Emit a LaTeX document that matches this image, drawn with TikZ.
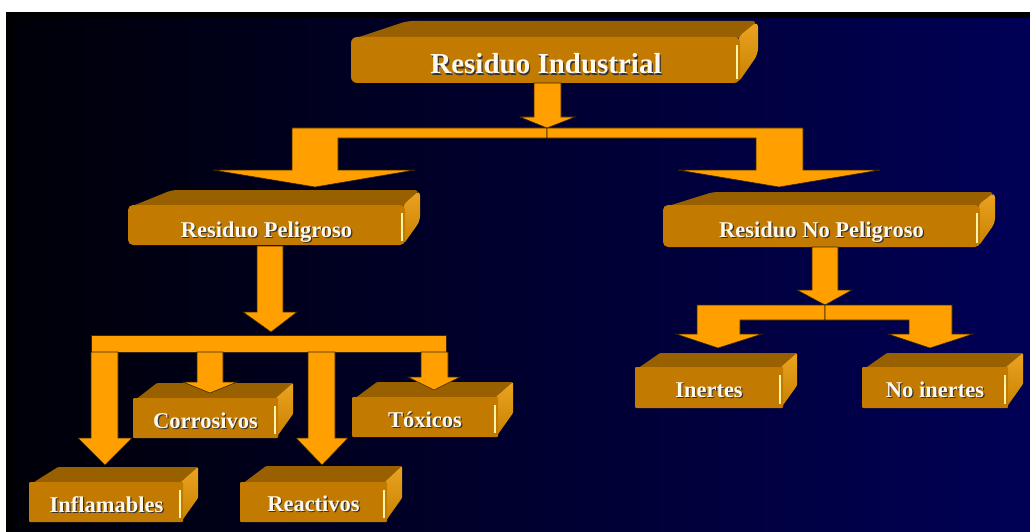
\documentclass[tikz,border=0pt]{standalone}
\usepackage{fontspec}
\setmainfont{Liberation Serif}
\definecolor{frontc}{HTML}{C27A00}
\definecolor{topc}{HTML}{996000}
\definecolor{sidetop}{HTML}{EBA422}
\definecolor{sidebot}{HTML}{C98200}
\definecolor{arrc}{HTML}{FFA000}
\definecolor{arredge}{HTML}{3A2600}
\definecolor{hlc}{HTML}{FFF4A8}
\definecolor{txtc}{HTML}{FFF8EC}
\definecolor{bgl}{HTML}{000008}
\definecolor{bgr}{HTML}{000056}
\newcommand\caja[9]{%
 \pgfmathsetmacro\cw{#4-#2}\pgfmathsetmacro\ch{#5-#3}\pgfmathsetmacro\cyd{#5-1.6*(#8-#4)}%
 \fill[topc, rounded corners=#9] (#2+2,#3+2) -- (#7,#6) -- (#8,#6) -- (#4,#3+2) -- cycle;
 \path[top color=sidetop, bottom color=sidebot, rounded corners=#9] (#4-2,#3) -- (#8,#6) -- (#8,\cyd) -- (#4-2,#5) -- cycle;
 \node[fill=frontc, rounded corners=#9, inner sep=0pt, minimum width=\cw pt, minimum height=\ch pt] (#1) at ({(#2+#4)/2},{(#3+#5)/2}) {};
 \draw[hlc, line width=1.3pt] (#4-3,#3+8) -- (#4-3,#5-4);
}
\newcommand\etq[5]{%
 \node[anchor=base, text=black!80, font=\fontsize{#4}{#4}\selectfont\bfseries] at (#2+1.2,#3+1.2) {#5};
 \node[anchor=base, text=txtc, font=\fontsize{#4}{#4}\selectfont\bfseries] (#1) at (#2,#3) {#5};
}
\begin{document}
\begin{tikzpicture}[x=1pt,y=-1pt, arr/.style={fill=arrc, draw=arredge, line width=0.6pt, line join=miter}]
\useasboundingbox (0,0) rectangle (1030,532);
\fill[white] (0,0) rectangle (1030,532);
\fill[black] (6,12) rectangle (1030,532);
\shade[left color=bgl, right color=bgr] (13,19) rectangle (1030,532);
% boxes
\caja{ri}{351}{37}{740}{83}{21}{407}{758}{6pt}
\caja{rp}{128}{205}{405}{245}{190}{172}{420}{5pt}
\caja{rnp}{663}{205}{980}{247}{192}{713}{995}{5pt}
\caja{ine}{635}{367}{783}{408}{353}{660}{797}{1pt}
\caja{noi}{862}{367}{1008}{408}{353}{887}{1023}{1pt}
\caja{cor}{133}{398}{278}{438}{383}{157}{293}{1pt}
\caja{tox}{352}{397}{498}{437}{382}{377}{513}{1pt}
\caja{inf}{29}{482}{183}{522}{467}{58}{198}{1pt}
\caja{rea}{240}{482}{387}{522}{466}{266}{402}{1pt}
% labels
\etq{tri}{546}{74}{29}{Residuo Industrial}
\etq{trp}{266.5}{237}{22.5}{Residuo Peligroso}
\etq{trnp}{821.5}{237}{22.5}{Residuo No Peligroso}
\etq{tine}{709}{397}{22.5}{Inertes}
\etq{tnoi}{935}{397}{22.5}{No inertes}
\etq{tcor}{205.5}{428}{22.5}{Corrosivos}
\etq{ttox}{425}{427}{22.5}{Tóxicos}
\etq{tinf}{106.5}{512}{22.5}{Inflamables}
\etq{trea}{313.5}{511}{22.5}{Reactivos}
% arrows: Residuo Industrial -> both branches
\filldraw[arr] (534,83) -- (534,117) -- (520,117) -- (547,128) -- (575,117) -- (561,117) -- (561,83) -- cycle;
\filldraw[arr] (547,128) -- (292,128) -- (292,170) -- (213,170) -- (315,187) -- (415,170) -- (338,170) -- (338,138) -- (547,138) -- cycle;
\filldraw[arr] (547,128) -- (803,128) -- (803,170) -- (880,170) -- (779,187) -- (678,170) -- (756,170) -- (756,138) -- (547,138) -- cycle;
% Residuo Peligroso -> bar
\filldraw[arr] (257,246) -- (257,312) -- (243,312) -- (271,332) -- (297,312) -- (283,312) -- (283,246) -- cycle;
\filldraw[arr] (91,335) rectangle (446,352);
% bar -> four classes
\filldraw[arr] (91,352) -- (91,438) -- (78,438) -- (105,465) -- (132,438) -- (118,438) -- (118,352) -- cycle;
\filldraw[arr] (197,352) -- (197,382) -- (183,382) -- (210,393) -- (237,382) -- (223,382) -- (223,352) -- cycle;
\filldraw[arr] (308,352) -- (308,438) -- (296,438) -- (322,465) -- (348,438) -- (335,438) -- (335,352) -- cycle;
\filldraw[arr] (421,352) -- (421,377) -- (408,377) -- (434,390) -- (460,377) -- (448,377) -- (448,352) -- cycle;
% Residuo No Peligroso -> Inertes / No inertes
\filldraw[arr] (812,247) -- (812,290) -- (797,290) -- (825,305) -- (852,290) -- (838,290) -- (838,247) -- cycle;
\filldraw[arr] (825,305) -- (697,305) -- (697,334) -- (676,334) -- (718,348) -- (762,334) -- (740,334) -- (740,320) -- (825,320) -- cycle;
\filldraw[arr] (825,305) -- (952,305) -- (952,334) -- (973,334) -- (930,348) -- (888,334) -- (909,334) -- (909,320) -- (825,320) -- cycle;
\end{tikzpicture}
\end{document}
